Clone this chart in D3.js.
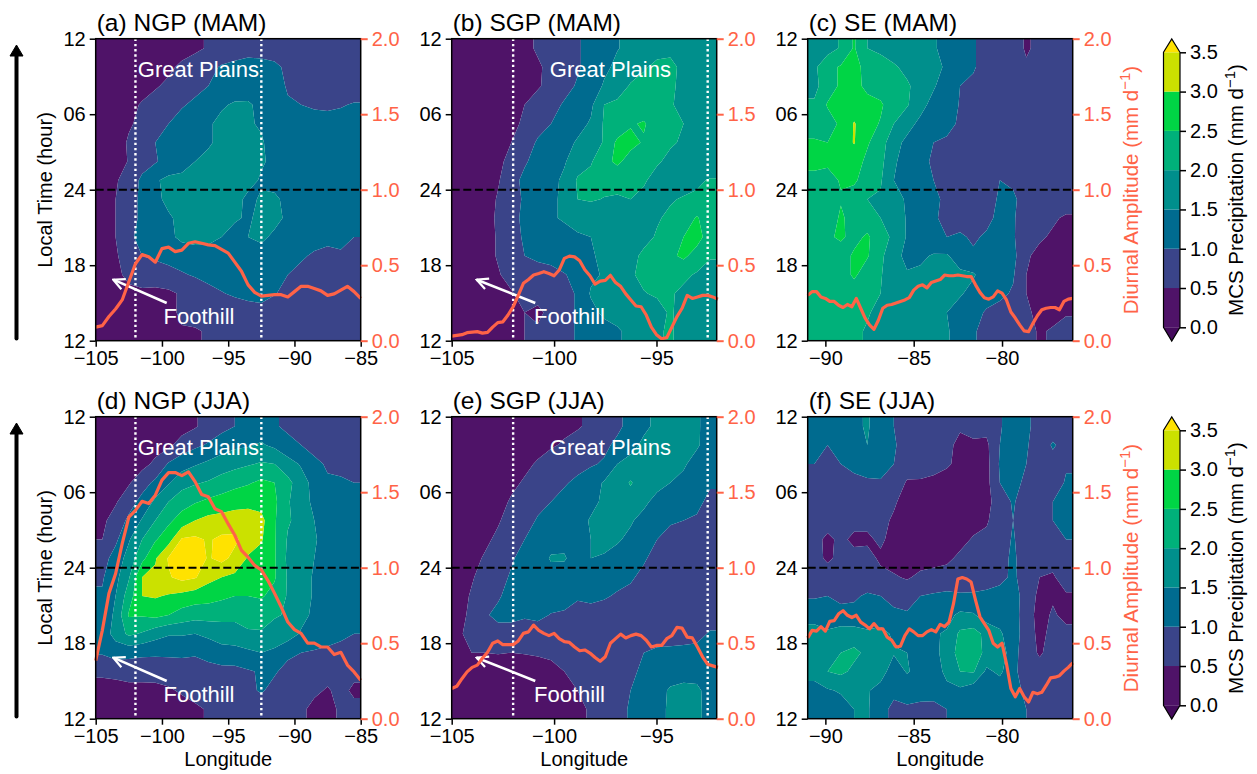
<!DOCTYPE html>
<html>
<head>
<meta charset="utf-8">
<script src="https://cdn.jsdelivr.net/npm/d3@7"></script>
<style>
  html, body { margin: 0; background: #fff; }
  text { font-family: "Liberation Sans", Arial, sans-serif; }
</style>
</head>
<body>
<svg id="chart" width="1257" height="774"></svg>
<script>
// colour levels, mm/d
var levels = [0, 0.5, 1, 1.5, 2, 2.5, 3, 3.5];
var bandColors = ['#4f1368', '#3a4489', '#006b8f', '#008f8c', '#00b17a', '#00d545', '#cbe100', '#ffe200'];
var underColor = '#440a5c';
var cbarTicks = [0, 0.5, 1, 1.5, 2, 2.5, 3, 3.5];
var hourTicks = [12, 18, 24, 30, 36];
var hourLabels = ['12', '18', '24', '06', '12'];
var ampTicks = [0, 0.5, 1, 1.5, 2];

// precipitation, cell centres, top row = 12 (next day), 20 columns x 16 rows
var gridA = [
  [.25,.25,.25,.25,.25,.3,.3,.4,.55,.65,.7,.8,.75,.75,.75,.7,.7,.7,.7,.7],
  [.2,.2,.25,.25,.3,.4,.6,.75,.85,1.05,1.15,1.2,1.2,1.1,.9,.8,.8,.8,.8,.8],
  [.2,.2,.25,.3,.45,.6,.75,.85,1,1.15,1.25,1.3,1.3,1.2,.95,.85,.85,.85,.85,.85],
  [.2,.2,.35,.55,.7,.8,.95,1.1,1.3,1.45,1.55,1.55,1.4,1.25,1.05,1,.95,.95,.98,1.02],
  [.2,.3,.45,.6,.8,1,1.2,1.35,1.45,1.6,1.65,1.55,1.45,1.35,1.25,1.2,1.15,1.1,1.1,1.1],
  [.2,.3,.55,.8,1,1.15,1.25,1.35,1.45,1.6,1.65,1.6,1.55,1.3,1.25,1.2,1.2,1.15,1.15,1.15],
  [.2,.35,.52,.8,.95,1.2,1.35,1.5,1.6,1.65,1.7,1.65,1.55,1.4,1.25,1.2,1.2,1.2,1.2,1.2],
  [.3,.45,.7,1.1,1.45,1.6,1.6,1.6,1.65,1.7,1.7,1.65,1.45,1.3,1.25,1.2,1.25,1.3,1.25,1.2],
  [.35,.5,.8,1.1,1.4,1.6,1.65,1.7,1.7,1.7,1.65,1.4,1.55,1.6,1.35,1.2,1.25,1.25,1.3,1.45],
  [.35,.5,.8,1.1,1.25,1.45,1.6,1.7,1.75,1.7,1.55,1.45,1.6,1.65,1.4,1.2,1.2,1.2,1.2,1.25],
  [.3,.5,.9,1.15,1.2,1.4,1.6,1.65,1.6,1.5,1.35,1.5,1.6,1.4,1.25,1.2,1.15,1.1,1.1,1],
  [.2,.45,.7,1,1.1,1.2,1.25,1.3,1.35,1.3,1.25,1.3,1.3,1.25,1.15,1.05,.95,.9,.95,.85],
  [.2,.4,.6,.7,.7,.8,.95,1.05,1.15,1.15,1.15,1.15,1.15,1.1,1,.9,.8,.75,.75,.7],
  [.2,.3,.4,.42,.4,.42,.55,.7,.85,.98,1.05,1.1,1.1,1.02,.9,.8,.75,.7,.7,.7],
  [.2,.25,.3,.3,.3,.35,.6,.7,.75,.75,.8,.85,.9,.8,.75,.7,.7,.7,.65,.65],
  [.2,.2,.25,.25,.3,.4,.45,.45,.55,.7,.7,.75,.75,.7,.7,.7,.7,.65,.65,.65]
];
var gridB = [
  [.2,.2,.2,.2,.25,.4,.55,.7,.8,.95,1.15,1.3,1.48,1.6,1.7,1.85,1.9,1.8,1.7,1.6],
  [.2,.2,.2,.2,.25,.35,.45,.6,.8,.95,1.15,1.4,1.6,1.75,1.95,2.1,2.1,1.9,1.7,1.65],
  [.2,.2,.2,.2,.25,.35,.45,.65,.85,1.05,1.25,1.55,1.75,2.05,2.15,2.2,2.1,1.85,1.7,1.6],
  [.2,.2,.2,.25,.3,.5,.7,.85,1.05,1.2,1.4,2,2.1,2.15,2.2,2.2,2.05,1.85,1.7,1.6],
  [.2,.2,.2,.25,.35,.6,.85,1,1.2,1.35,1.55,2.05,2.15,2.45,2.55,2.25,2.15,2,1.75,1.6],
  [.2,.2,.2,.3,.5,.8,1.05,1.15,1.35,1.55,1.7,2.05,2.6,2.65,2.45,2.2,2.05,1.95,1.75,1.6],
  [.2,.2,.25,.35,.7,.95,1.15,1.3,1.45,1.8,1.95,2.35,2.6,2.3,2.2,2.05,1.9,1.8,1.65,1.6],
  [.2,.2,.25,.45,.85,1.1,1.25,1.35,1.6,2.05,2.15,2.15,2.15,2.15,2.05,1.85,1.7,1.75,1.9,2.05],
  [.2,.2,.25,.55,.85,1.05,1.25,1.4,1.6,2,2.05,1.98,1.95,2,1.9,1.75,1.95,2.05,2.1,2.15],
  [.2,.2,.25,.6,.85,1.1,1.3,1.45,1.55,1.65,1.7,1.75,1.9,1.8,1.75,1.95,2.1,2.2,2.55,2.2],
  [.2,.2,.3,.55,.85,1.05,1.2,1.3,1.35,1.45,1.5,1.65,1.7,1.75,1.85,2.05,2.2,2.5,2.7,2.25],
  [.2,.2,.3,.55,.75,1,1.05,1.05,1.2,1.3,1.45,1.6,1.65,1.85,2.1,2.15,2.4,2.6,2.3,2.05],
  [.2,.2,.25,.45,.7,.8,.9,.95,.98,1.1,1.4,1.55,1.6,1.95,2.1,2.2,2.2,2.1,1.95,1.8],
  [.15,.15,.2,.3,.45,.7,.75,.8,.85,1.05,1.55,1.6,1.65,1.95,1.98,2.05,2.05,1.9,1.7,1.65],
  [.15,.15,.2,.25,.35,.5,.35,.7,.85,1.05,1.35,1.6,1.65,1.75,1.85,1.85,2.05,1.85,1.7,1.55],
  [.15,.15,.2,.25,.35,.5,.6,.75,.85,1.05,1.2,1.3,1.45,1.6,1.75,1.95,2.05,1.85,1.6,1.5]
];
var gridC = [
  [1.6,1.8,2.05,2.55,2,1.95,1.8,1.7,1.6,1.55,1.35,1.25,1.05,.8,.75,.7,.45,.6,.65,.65],
  [1.9,2.35,2.55,2.7,2.3,2.1,2.05,1.9,1.75,1.6,1.45,1.2,1.05,.8,.75,.7,.55,.65,.65,.65],
  [1.9,2.2,2.6,2.7,2.35,2.15,2.1,2.05,1.85,1.55,1.25,1,.9,.8,.75,.7,.65,.65,.65,.65],
  [2.05,2.55,2.5,2.75,2.7,2.6,2.1,2.05,1.65,1.35,1.15,.98,.8,.75,.7,.7,.65,.7,.7,.7],
  [2.3,2.25,2.6,3.03,2.75,2.45,2,1.65,1.4,1.25,1.1,.95,.8,.75,.7,.7,.7,.7,.7,.7],
  [2.55,2.5,2.7,3.03,2.55,2.25,1.65,1.4,1.2,1,.95,.85,.8,.75,.7,.7,.6,.7,.7,.7],
  [2.6,2.6,2.6,2.7,2.4,2.15,1.55,1.35,1.2,.9,.85,.8,.75,.75,.75,.7,.55,.6,.7,.7],
  [2.4,2.3,2.55,2.6,2.2,2.05,1.5,1.3,1.2,1,.9,.85,.8,.8,1,.9,.7,.65,.7,.7],
  [2.2,2.15,2.45,2.2,2,1.95,1.65,1.45,1.25,1.1,.9,.85,.8,.85,1.05,1.1,.75,.7,.7,.7],
  [2.1,2.1,2.6,2.25,2.1,2,1.85,1.45,1.2,1.05,.9,.85,.9,.9,1.1,1.05,.75,.65,.55,.45],
  [2.1,2.4,2.6,2.3,2.6,2.1,1.95,1.45,1.2,1.1,1,1.05,.95,1.05,1.1,1.05,.7,.55,.45,.4],
  [2.1,2.15,2.2,2.6,2.55,2.1,1.7,1.35,1.4,1.55,1.55,1.25,1.05,1.2,1.5,1.15,.55,.4,.35,.35],
  [2.05,2.15,2.2,2.6,2.2,2.05,1.6,1.55,1.6,1.65,1.7,1.6,1.55,1.25,1.5,1.05,.5,.35,.3,.3],
  [2.05,2.1,2.15,2.2,2.1,2,1.75,1.7,1.7,1.6,1.6,1.55,1.35,1.2,1.1,.95,.5,.35,.3,.3],
  [2.1,2.1,2.15,2.15,2.05,1.85,1.75,1.7,1.65,1.55,1.5,1.3,1.15,.95,.85,.95,.6,.35,.35,.45],
  [2.2,2.25,2.1,2.1,1.95,1.8,1.7,1.7,1.65,1.6,1.55,1.3,1.05,.85,.8,.9,.65,.45,.55,.7]
];
var gridD = [
  [.2,.2,.2,.2,.2,.25,.3,.45,.7,.85,1,1.2,1.25,1.05,.9,.75,.7,.7,.7,.7],
  [.2,.2,.2,.25,.3,.4,.7,.9,1.05,1.25,1.4,1.45,1.55,1.4,1.15,1,.85,.75,.7,.7],
  [.2,.2,.25,.35,.6,1.05,1.3,1.45,1.6,1.75,1.85,1.95,2.05,2,1.7,1.45,1.1,.95,.9,.8],
  [.2,.25,.45,.8,1.1,1.45,1.8,1.95,2.05,2.2,2.35,2.45,2.6,2.5,2.15,1.7,1.35,1.05,1.05,1],
  [.3,.45,.8,1.15,1.6,2,2.3,2.45,2.6,2.7,2.8,2.85,2.8,2.6,2.05,1.7,1.4,1.2,1.15,1.1],
  [.4,.7,1.1,1.55,2,2.4,2.7,3,3.15,3.2,3.25,3.25,3.15,2.55,2.05,1.85,1.5,1.2,1.2,1.15],
  [.5,.9,1.45,2,2.45,2.8,3.55,3.6,3.45,3.6,3.6,3.25,3.05,2.55,1.95,1.7,1.55,1.3,1.2,1.15],
  [.8,1.2,1.7,2.35,2.95,3.55,3.8,3.8,3.45,3.65,3.35,2.95,2.8,2.55,1.9,1.7,1.5,1.25,1.2,1.2],
  [.95,1.35,1.95,3,3.1,3.45,3.65,3.55,3.15,3,2.9,2.75,2.75,2.55,1.95,1.7,1.45,1.2,1.2,1.2],
  [1.05,1.5,2.25,3,3.05,2.95,2.85,2.75,2.7,2.6,2.5,2.5,2.55,2.35,1.95,1.7,1.45,1.25,1.2,1.2],
  [1.15,1.6,2.55,2.55,2.65,2.5,2.3,2.2,2.2,2.15,2.15,2.15,2.2,2.05,1.95,1.65,1.4,1.25,1.2,1.15],
  [1.2,1.7,2.1,1.95,1.7,1.55,1.55,1.5,1.6,1.75,1.75,1.95,1.95,1.8,1.75,1.45,1.3,1.2,1.1,1],
  [1.05,1.2,1.15,1.1,1.1,1.1,1.1,1.05,1.2,1.3,1.35,1.4,1.5,1.4,1.1,1,.95,.9,.85,.8],
  [.6,.65,.7,.7,.65,.7,.75,.8,.8,.85,.85,.95,1.05,1.05,.85,.75,.7,.7,.7,.65],
  [.3,.3,.35,.35,.4,.45,.55,.7,.75,.75,.8,.9,1.05,.85,.75,.7,.6,.45,.65,.4],
  [.2,.2,.25,.25,.25,.3,.35,.4,.55,.7,.7,.7,.75,.7,.7,.6,.35,.3,.6,.65]
];
var gridE = [
  [.15,.15,.15,.15,.2,.25,.3,.35,.4,.45,.6,.75,.9,1.15,1.4,1.6,1.7,1.7,1.6,1.2],
  [.15,.15,.15,.2,.25,.3,.35,.45,.55,.7,.8,.9,1.1,1.35,1.6,1.7,1.75,1.7,1.6,1.15],
  [.15,.15,.2,.25,.3,.4,.55,.7,.8,.85,.95,1.05,1.5,1.65,1.75,1.75,1.7,1.6,1.2,1.1],
  [.15,.2,.25,.3,.4,.55,.7,.85,.95,1.1,1.25,1.55,1.7,2.05,1.7,1.65,1.5,1.3,1.1,1.05],
  [.15,.2,.25,.35,.55,.7,.85,1,1.15,1.25,1.35,1.6,1.7,1.75,1.6,1.35,1.2,1.15,1.1,.9],
  [.2,.25,.3,.45,.7,.8,1.05,1.2,1.25,1.3,1.55,1.65,1.65,1.55,1.35,1.2,1.05,1,.95,.95],
  [.2,.25,.4,.6,.8,1,1.2,1.3,1.35,1.35,1.5,1.65,1.55,1.4,1.2,1,.85,.8,.8,.8],
  [.2,.35,.55,.75,.95,1.15,1.25,1.55,1.55,1.25,1.5,1.45,1.35,1.2,1.05,.85,.8,.8,.75,.75],
  [.25,.45,.7,.85,1.05,1.25,1.4,1.3,1.25,1.2,1.2,1.2,1.15,1.05,.9,.8,.75,.75,.75,.75],
  [.3,.55,.75,.95,1.15,1.2,1.25,1.2,1.15,1.05,1.1,1.05,.95,.9,.8,.75,.75,.75,.75,.75],
  [.35,.6,.95,1.1,1.1,1.05,1.1,.98,.95,.85,.85,.8,.8,.75,.7,.7,.7,.7,.7,.75],
  [.45,.6,.75,.85,.85,.8,.8,.8,.75,.7,.7,.7,.7,.7,.7,.75,.8,.85,.85,1.05],
  [.45,.5,.5,.52,.5,.52,.55,.6,.6,.65,.65,.65,.65,.7,1,1.1,1.1,1.1,1.15,1.2],
  [.2,.25,.3,.3,.3,.3,.3,.35,.5,.6,.65,.7,.75,.9,1.1,1.2,1.3,1.35,1.3,1.25],
  [.15,.15,.2,.2,.2,.2,.25,.3,.35,.5,.65,.7,.85,1,1.15,1.35,1.55,1.6,1.6,1.3],
  [.15,.15,.15,.15,.2,.2,.25,.3,.3,.4,.55,.7,.85,1.05,1.2,1.4,1.55,1.65,1.65,1.25]
];
var gridF = [
  [1.1,1.2,1.2,1.4,1.55,1.25,1,.85,.75,.7,.65,.55,.6,.65,.95,1.25,1.1,.8,.75,.85],
  [1.1,1,1.15,1.2,1.5,1.2,1.05,.8,.75,.7,.6,.4,.45,.4,1,1.25,1.05,.75,1.05,.85],
  [1,.9,1,1.05,1.15,1.2,1,.75,.7,.65,.55,.4,.35,.35,1.05,1.2,1,.75,.85,.95],
  [.8,.8,.8,.95,.95,.95,.8,.45,.45,.4,.35,.3,.3,.35,1,1.15,.9,.75,.75,1.05],
  [.75,.75,.7,.7,.7,.7,.55,.35,.3,.3,.3,.3,.3,.35,.75,1.05,.75,.7,1,1.15],
  [.7,.7,.6,.65,.65,.6,.45,.3,.3,.3,.3,.3,.3,.45,.75,1,.7,.7,1,1.15],
  [.65,.4,.6,.4,.4,.6,.3,.3,.3,.3,.3,.35,.55,.6,.75,1.05,.7,.7,.75,1],
  [.7,.4,.65,.65,.7,.4,.3,.3,.3,.3,.4,.6,.7,.7,.8,1.1,.7,.7,.65,.7],
  [.75,.8,.75,.75,.75,.65,.55,.45,.6,.7,.7,.75,.8,.8,.85,1.1,.75,.5,.45,.7],
  [.95,1,.85,.95,1.05,1,.85,.8,1,1.05,1.1,1.05,1.05,1.1,1.2,1.25,.75,.4,.45,.45],
  [1.3,1.15,1.2,1.1,1.15,1.15,1.1,1.05,1.2,1.3,1.35,1.6,1.55,1.25,1.35,1.25,.7,.35,.55,.4],
  [1.7,1.6,1.7,1.75,1.6,1.7,1.4,1.2,1.3,1.45,1.55,2.1,2.2,1.85,1.55,1.3,.7,.4,.6,.6],
  [2,1.8,2,2.1,1.9,1.8,1.55,1.5,1.4,1.35,1.7,2.2,2.3,1.85,1.8,1.2,.7,.45,.65,.7],
  [1.7,2,2.1,1.9,1.8,1.75,1.2,1.55,1.3,1.2,1.65,2,2.05,1.4,1.6,1.15,.7,.65,.7,.7],
  [1.3,1.45,1.55,1.6,1.55,1.3,1.15,1.15,1.15,1.2,1.35,1.4,1.2,1.1,1.2,1.25,.85,.7,.7,.7],
  [1.2,1.2,1.3,1.5,1.55,1.2,.85,.95,.9,.85,1,1.1,1.1,1.1,1.2,1.35,1,.7,.7,.7]
];

// diurnal amplitude, mm/d
var ampA = [.09,.10,.16,.21,.27,.39,.51,.57,.556,.52,.61,.62,.59,.60,.645,.655,.645,.635,.63,.605,.58,.52,.46,.37,.32,.295,.30,.305,.305,.29,.325,.36,.36,.345,.33,.30,.31,.335,.36,.325,.28];
var ampB = [.03,.035,.04,.053,.057,.06,.05,.055,.09,.12,.125,.17,.225,.30,.38,.405,.435,.445,.457,.445,.43,.468,.545,.56,.555,.53,.47,.43,.375,.395,.40,.433,.385,.36,.31,.27,.23,.225,.17,.09,.04,.013,.02,.09,.16,.215,.30,.28,.29,.30,.30,.29,.275];
var ampC = [.30,.325,.325,.29,.28,.26,.26,.235,.22,.24,.225,.28,.215,.15,.105,.075,.135,.215,.235,.24,.25,.26,.27,.285,.335,.36,.37,.35,.385,.395,.405,.435,.43,.43,.435,.43,.425,.425,.37,.32,.285,.275,.29,.33,.315,.27,.19,.15,.105,.065,.06,.115,.165,.205,.215,.22,.22,.205,.26,.275,.28];
var ampD = [.385,.585,.83,.96,1.16,1.335,1.38,1.44,1.425,1.48,1.58,1.63,1.63,1.61,1.635,1.57,1.485,1.47,1.39,1.37,1.29,1.215,1.115,1.07,1.015,.985,.915,.83,.74,.64,.59,.565,.50,.50,.475,.475,.425,.44,.355,.31,.255];
var ampE = [.20,.215,.265,.31,.34,.355,.40,.44,.50,.515,.49,.49,.49,.515,.565,.575,.62,.585,.565,.55,.565,.53,.51,.505,.475,.45,.455,.435,.405,.38,.41,.50,.53,.56,.535,.55,.56,.55,.52,.475,.485,.485,.53,.55,.605,.60,.54,.535,.475,.41,.36,.35,.34];
var ampF = [.535,.585,.58,.61,.58,.645,.65,.695,.715,.685,.67,.685,.64,.62,.595,.63,.595,.595,.54,.52,.475,.48,.55,.595,.575,.55,.55,.575,.59,.575,.625,.61,.64,.76,.925,.935,.925,.905,.785,.675,.63,.585,.50,.475,.50,.365,.20,.145,.20,.145,.11,.175,.165,.175,.22,.27,.275,.285,.315,.34,.37];

var panels = [
  {title: '(a) NGP (MAM)', row: 0, col: 0, lon: [-105, -85], grid: gridA, amp: ampA, step: 0.5, xticks: [-105, -100, -95, -90, -85], plains: true, foot: -99.64, tip: -103.67, footX: 67.8},
  {title: '(b) SGP (MAM)', row: 0, col: 1, lon: [-105, -92.06], grid: gridB, amp: ampB, step: 0.25, xticks: [-105, -100, -95], plains: true, foot: -100.92, tip: -103.78, footX: 82.3},
  {title: '(c) SE (MAM)', row: 0, col: 2, lon: [-91, -76], grid: gridC, amp: ampC, step: 0.25, xticks: [-90, -85, -80]},
  {title: '(d) NGP (JJA)', row: 1, col: 0, lon: [-105, -85], grid: gridD, amp: ampD, step: 0.5, xticks: [-105, -100, -95, -90, -85], plains: true, foot: -99.64, tip: -103.67, footX: 67.8},
  {title: '(e) SGP (JJA)', row: 1, col: 1, lon: [-105, -92.06], grid: gridE, amp: ampE, step: 0.25, xticks: [-105, -100, -95], plains: true, foot: -100.92, tip: -103.78, footX: 82.3},
  {title: '(f) SE (JJA)', row: 1, col: 2, lon: [-91, -76], grid: gridF, amp: ampF, step: 0.25, xticks: [-90, -85, -80]}
];

var plainsEdges = [-102, -92.5];

var colX = [95.7, 451.7, 807.7];
var rowY = [38.7, 416.7];
var axW = 265, axH = 302;
var tomato = '#ff6347';

var svg = d3.select('#chart');
var defs = svg.append('defs');

defs.append('clipPath').attr('id', 'ax-clip')
  .append('rect').attr('width', axW).attr('height', axH);

defs.append('marker')
    .attr('id', 'foot-head')
    .attr('viewBox', '0 0 10 10').attr('refX', 9).attr('refY', 5)
    .attr('markerUnits', 'userSpaceOnUse')
    .attr('markerWidth', 14).attr('markerHeight', 14)
    .attr('orient', 'auto')
  .append('path')
    .attr('d', 'M1,1 L9,5 L1,9')
    .attr('fill', 'none').attr('stroke', '#fff').attr('stroke-width', 1.6);

// one extra ring of cells, clipped away later, so contours do not cut the corners
function padGrid(grid) {
    var rows = grid.map(function(r) { return [r[0]].concat(r, [r[r.length - 1]]); });
    return [rows[0]].concat(rows, [rows[rows.length - 1]]);
}

function drawPanel(p) {
    var left = colX[p.col], top = rowY[p.row];
    var g = svg.append('g').attr('transform', 'translate(' + left + ',' + top + ')');
    var x = d3.scaleLinear().domain(p.lon).range([0, axW]);
    var y = d3.scaleLinear().domain([12, 36]).range([axH, 0]);
    var yAmp = d3.scaleLinear().domain([0, 2]).range([axH, 0]);

    // cell space of the contour generator -> axes pixels
    var padded = padGrid(p.grid);
    var nr = p.grid.length, nc = p.grid[0].length;
    var cx = d3.scaleLinear().domain([1, nc + 1]).range(x.domain());
    var cy = d3.scaleLinear().domain([1, nr + 1]).range([36, 12]);
    var path = d3.geoPath(d3.geoTransform({
        point: function(a, b) { this.stream.point(x(cx(a)), y(cy(b))); }
    }));
    var flat = padded.reduce(function(acc, r) { return acc.concat(r); }, []);
    var gen = d3.contours().size([nc + 2, nr + 2]);

    // each band is its own shape so the thin seams show like in contourf
    var bands = g.append('g').attr('clip-path', 'url(#ax-clip)');
    levels.forEach(function(lo, i) {
        var d = path(gen.contour(flat, lo)) || '';
        if(i < levels.length - 1)
            d += path(gen.contour(flat, levels[i + 1])) || '';
        bands.append('path')
            .attr('d', d)
            .attr('fill', bandColors[i])
            .attr('fill-rule', 'evenodd');
    });

    g.append('line')
        .attr('x1', 0).attr('x2', axW)
        .attr('y1', y(24)).attr('y2', y(24))
        .attr('stroke', '#000').attr('stroke-width', 2)
        .attr('stroke-dasharray', '8 3.6');

    if(p.plains) {
        plainsEdges.forEach(function(lon) {
            g.append('line')
                .attr('x1', x(lon)).attr('x2', x(lon))
                .attr('y1', 0).attr('y2', axH)
                .attr('stroke', '#fff').attr('stroke-width', 2.4)
                .attr('stroke-dasharray', '2.4 2.8');
        });
        g.append('text')
            .attr('x', x(-97.25)).attr('y', 38)
            .attr('text-anchor', 'middle')
            .attr('fill', '#fff').attr('font-size', 22)
            .text('Great Plains');
        g.append('line')
            .attr('x1', x(p.foot)).attr('y1', y(15))
            .attr('x2', x(p.tip)).attr('y2', y(16.85))
            .attr('stroke', '#fff').attr('stroke-width', 2.6)
            .attr('marker-end', 'url(#foot-head)');
    }

    var line = d3.line()
        .x(function(v, i) { return x(p.lon[0] + i * p.step); })
        .y(function(v) { return yAmp(v); });
    g.append('path')
        .attr('d', line(p.amp))
        .attr('fill', 'none')
        .attr('stroke', tomato).attr('stroke-width', 3.2)
        .attr('stroke-linejoin', 'round');

    if(p.plains) {
        g.append('text')
            .attr('x', p.footX).attr('y', 285)
            .attr('fill', '#fff').attr('font-size', 22)
            .text('Foothill');
    }

    g.append('rect')
        .attr('width', axW).attr('height', axH)
        .attr('fill', 'none').attr('stroke', '#000').attr('stroke-width', 1.5);

    var xAxis = g.append('g').attr('transform', 'translate(0,' + axH + ')')
        .call(d3.axisBottom(x).tickValues(p.xticks).tickSize(6).tickPadding(4).tickFormat(d3.format('d')));
    var yAxis = g.append('g')
        .call(d3.axisLeft(y).tickValues(hourTicks).tickSize(6).tickPadding(4)
              .tickFormat(function(d, i) { return hourLabels[i]; }));
    var ampAxis = g.append('g').attr('transform', 'translate(' + axW + ',0)')
        .call(d3.axisRight(yAmp).tickValues(ampTicks).tickSize(7).tickPadding(4).tickFormat(d3.format('.1f')));

    [xAxis, yAxis, ampAxis].forEach(function(a) {
        a.select('.domain').remove();
        a.attr('font-family', null).attr('font-size', 20);
        a.selectAll('line').attr('stroke-width', 1.5);
    });
    ampAxis.selectAll('line').attr('stroke', tomato).attr('stroke-width', 2);
    ampAxis.selectAll('text').attr('fill', tomato);

    g.append('text')
        .attr('x', 1).attr('y', -7.5)
        .attr('font-size', 24.5)
        .text(p.title);

    if(p.row === 1)
        g.append('text')
            .attr('x', axW / 2).attr('y', 349)
            .attr('text-anchor', 'middle')
            .attr('font-size', 20)
            .text('Longitude');
}

panels.forEach(drawPanel);

function superLabel(parent, xpos, ypos, label, color) {
    var t = parent.append('text')
        .attr('transform', 'translate(' + xpos + ',' + ypos + ') rotate(-90)')
        .attr('text-anchor', 'middle')
        .attr('font-size', 20.5)
        .attr('fill', color);
    t.append('tspan').text(label + ' (mm d');
    t.append('tspan').attr('dy', -8).attr('font-size', 15).text('\u22121');
    t.append('tspan').attr('dy', 8).text(')');
}

function drawColorbar(row) {
    var off = rowY[row] - rowY[0];
    var g = svg.append('g').attr('transform', 'translate(0,' + off + ')');
    var cx0 = 1163.5, cw = 16.5;
    var c = d3.scaleLinear().domain([0, 3.5]).range([327.3, 52.3]);
    levels.slice(0, -1).forEach(function(lo, i) {
        g.append('rect')
            .attr('x', cx0).attr('width', cw)
            .attr('y', c(levels[i + 1])).attr('height', c(lo) - c(levels[i + 1]))
            .attr('fill', bandColors[i]);
    });
    g.append('path')
        .attr('d', 'M' + cx0 + ',' + c(3.5) + 'L' + (cx0 + cw / 2) + ',39L' + (cx0 + cw) + ',' + c(3.5) + 'Z')
        .attr('fill', bandColors[7]);
    g.append('path')
        .attr('d', 'M' + cx0 + ',' + c(0) + 'L' + (cx0 + cw / 2) + ',341L' + (cx0 + cw) + ',' + c(0) + 'Z')
        .attr('fill', underColor);
    g.append('path')
        .attr('d', 'M' + cx0 + ',' + c(3.5) + 'L' + (cx0 + cw / 2) + ',39L' + (cx0 + cw) + ',' + c(3.5) +
             'L' + (cx0 + cw) + ',' + c(0) + 'L' + (cx0 + cw / 2) + ',341L' + cx0 + ',' + c(0) + 'Z')
        .attr('fill', 'none').attr('stroke', '#000').attr('stroke-width', 1.2);
    var a = g.append('g').attr('transform', 'translate(' + (cx0 + cw) + ',0)')
        .call(d3.axisRight(c).tickValues(cbarTicks).tickSize(6).tickPadding(4).tickFormat(d3.format('.1f')));
    a.select('.domain').remove();
    a.attr('font-family', null).attr('font-size', 20);
    a.selectAll('line').attr('stroke-width', 1.5);

    superLabel(g, 1243, 190, 'MCS Precipitation', '#000');
    superLabel(g, 1138, 190, 'Diurnal Amplitude', tomato);

    g.append('text')
        .attr('transform', 'translate(52,190) rotate(-90)')
        .attr('text-anchor', 'middle')
        .attr('font-size', 20)
        .text('Local Time (hour)');

    // time arrow at the far left
    g.append('line')
        .attr('x1', 16.5).attr('x2', 16.5)
        .attr('y1', 338.5).attr('y2', 52)
        .attr('stroke', '#000').attr('stroke-width', 4).attr('stroke-linecap', 'round');
    g.append('path')
        .attr('d', 'M16.5,45 L23,56 L10,56 Z')
        .attr('fill', '#000').attr('stroke', '#000').attr('stroke-width', 1).attr('stroke-linejoin', 'round');
}

drawColorbar(0);
drawColorbar(1);
</script>
</body>
</html>
